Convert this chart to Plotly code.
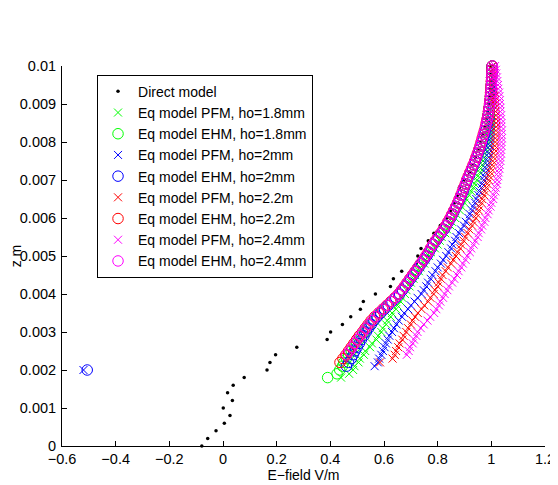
import plotly.graph_objects as go

# ---------------- data ----------------
# shared depth grid (m) for equivalent-model series, 0.0018 .. 0.0100
Z_GRID = [0.0018, 0.0019,
          0.0020, 0.0021, 0.0022, 0.0023, 0.0024, 0.0025, 0.0026, 0.0027, 0.0028, 0.0029,
          0.0030, 0.0031, 0.0032, 0.0033, 0.0034, 0.0035, 0.0036, 0.0037, 0.0038, 0.0039,
          0.0040, 0.0041, 0.0042, 0.0043, 0.0044, 0.0045, 0.0046, 0.0047, 0.0048, 0.0049,
          0.0050, 0.0051, 0.0052, 0.0053, 0.0054, 0.0055, 0.0056, 0.0057, 0.0058, 0.0059,
          0.0060, 0.0061, 0.0062, 0.0063, 0.0064, 0.0065, 0.0066, 0.0067, 0.0068, 0.0069,
          0.0070, 0.0071, 0.0072, 0.0073, 0.0074, 0.0075, 0.0076, 0.0077, 0.0078, 0.0079,
          0.0080, 0.0081, 0.0082, 0.0083, 0.0084, 0.0085, 0.0086, 0.0087, 0.0088, 0.0089,
          0.0090, 0.0091, 0.0092, 0.0093, 0.0094, 0.0095, 0.0096, 0.0097, 0.0098, 0.0099,
          0.0100]

# Direct model
DIRECT_Z = [0.0000, 0.0002, 0.0004, 0.0006, 0.0008, 0.0010, 0.0012, 0.0014, 0.0016, 0.0018,
            0.0020, 0.0022, 0.0024, 0.0026, 0.0028, 0.0030, 0.0032, 0.0034, 0.0036, 0.0038,
            0.0040, 0.0042, 0.0044, 0.0046, 0.0048, 0.0050, 0.0052, 0.0054, 0.0056, 0.0058,
            0.0060, 0.0062, 0.0064, 0.0066, 0.0068, 0.0070, 0.0072, 0.0074, 0.0076, 0.0078,
            0.0080, 0.0082, 0.0084, 0.0086, 0.0088, 0.0090, 0.0092, 0.0094, 0.0096, 0.0098,
            0.0100]
DIRECT_E = [-0.079, -0.057, -0.026, 0.005, 0.026, 0.001, 0.035, 0.017, 0.038, 0.079,
            0.164, 0.175, 0.196, 0.275, 0.388, 0.401, 0.445, 0.476, 0.512, 0.523,
            0.568, 0.624, 0.635, 0.666, 0.720, 0.726, 0.738, 0.765, 0.786, 0.810,
            0.834, 0.848, 0.862, 0.874, 0.881, 0.900, 0.918, 0.928, 0.940, 0.950,
            0.958, 0.966, 0.974, 0.981, 0.986, 0.990, 0.994, 0.997, 0.999, 1.000,
            1.001]

# ho = 1.8 mm (starts at z = 0.0018)
PFM_18 = [0.440, 0.470,
          0.485, 0.490, 0.505, 0.510, 0.525, 0.530, 0.548, 0.555, 0.572, 0.578,
          0.590, 0.595, 0.608, 0.612, 0.625, 0.630, 0.645, 0.650, 0.662, 0.668,
          0.678, 0.684, 0.695, 0.700, 0.710, 0.716, 0.730, 0.736, 0.750, 0.755,
          0.768, 0.775, 0.790, 0.800, 0.808, 0.815, 0.828, 0.835, 0.848, 0.853,
          0.865, 0.870, 0.883, 0.890, 0.900, 0.906, 0.918, 0.925, 0.933, 0.938,
          0.946, 0.950, 0.957, 0.960, 0.966, 0.969, 0.974, 0.976, 0.980, 0.982,
          0.986, 0.988, 0.991, 0.992, 0.995, 0.996, 0.998, 0.998, 1.000, 1.000,
          1.001, 1.000, 1.002, 1.001, 1.002, 1.002, 1.003, 1.002, 1.003, 1.003,
          1.003]
EHM_18 = [0.390, 0.425,
          0.435, 0.445, 0.450, 0.460, 0.468, 0.478, 0.490, 0.498, 0.508, 0.518,
          0.528, 0.538, 0.548, 0.560, 0.572, 0.586, 0.600, 0.614, 0.628, 0.642,
          0.656, 0.667, 0.678, 0.688, 0.698, 0.708, 0.718, 0.728, 0.738, 0.748,
          0.758, 0.767, 0.775, 0.783, 0.793, 0.803, 0.813, 0.823, 0.832, 0.840,
          0.848, 0.855, 0.862, 0.869, 0.876, 0.882, 0.888, 0.894, 0.899, 0.905,
          0.910, 0.916, 0.922, 0.928, 0.934, 0.940, 0.945, 0.950, 0.955, 0.960,
          0.964, 0.968, 0.972, 0.976, 0.980, 0.983, 0.986, 0.988, 0.990, 0.992,
          0.994, 0.996, 0.997, 0.998, 0.999, 1.000, 1.001, 1.001, 1.002, 1.002,
          1.003]

# ho = 2 mm (starts at z = 0.0020)
PFM_20 = [-0.520, 0.565, 0.577, 0.582, 0.590, 0.596, 0.602, 0.607, 0.614, 0.620,
          0.630, 0.637, 0.647, 0.655, 0.667, 0.675, 0.690, 0.700, 0.714, 0.725,
          0.740, 0.748, 0.758, 0.764, 0.774, 0.780, 0.792, 0.800, 0.812, 0.820,
          0.832, 0.840, 0.850, 0.855, 0.865, 0.870, 0.880, 0.887, 0.898, 0.905,
          0.915, 0.920, 0.928, 0.932, 0.940, 0.944, 0.952, 0.956, 0.963, 0.966,
          0.972, 0.974, 0.979, 0.980, 0.985, 0.986, 0.990, 0.990, 0.994, 0.994,
          0.997, 0.997, 0.999, 0.999, 1.001, 1.000, 1.002, 1.001, 1.003, 1.002,
          1.004, 1.003, 1.004, 1.003, 1.004, 1.004, 1.004, 1.003, 1.004, 1.004,
          1.004]
EHM_20 = [-0.506, 0.460, 0.468, 0.478, 0.485, 0.492, 0.500, 0.508, 0.516, 0.525,
          0.534, 0.543, 0.553, 0.563, 0.575, 0.588, 0.602, 0.616, 0.630, 0.644,
          0.658, 0.669, 0.680, 0.690, 0.700, 0.710, 0.720, 0.730, 0.740, 0.750,
          0.760, 0.768, 0.776, 0.784, 0.794, 0.804, 0.814, 0.824, 0.833, 0.841,
          0.849, 0.856, 0.863, 0.870, 0.877, 0.883, 0.889, 0.895, 0.900, 0.906,
          0.911, 0.917, 0.923, 0.929, 0.935, 0.941, 0.946, 0.951, 0.956, 0.961,
          0.965, 0.969, 0.973, 0.977, 0.980, 0.983, 0.986, 0.988, 0.990, 0.992,
          0.994, 0.995, 0.997, 0.998, 0.999, 1.000, 1.001, 1.001, 1.002, 1.002,
          1.003]

# ho = 2.2 mm (starts at z = 0.0022)
PFM_22 = [0.585, 0.632, 0.640, 0.645, 0.653, 0.658, 0.668, 0.673,
          0.683, 0.690, 0.700, 0.706, 0.716, 0.726, 0.740, 0.750, 0.765, 0.773,
          0.785, 0.790, 0.800, 0.804, 0.812, 0.818, 0.830, 0.838, 0.850, 0.858,
          0.868, 0.874, 0.884, 0.888, 0.897, 0.903, 0.912, 0.918, 0.928, 0.933,
          0.942, 0.946, 0.953, 0.956, 0.963, 0.966, 0.973, 0.976, 0.982, 0.985,
          0.990, 0.993, 0.997, 0.999, 1.003, 1.005, 1.008, 1.009, 1.012, 1.013,
          1.015, 1.015, 1.017, 1.017, 1.018, 1.018, 1.018, 1.017, 1.016, 1.015,
          1.014, 1.013, 1.012, 1.011, 1.010, 1.009, 1.008, 1.007, 1.006, 1.005,
          1.004]
EHM_22 = [0.436, 0.447, 0.458, 0.468, 0.478, 0.488, 0.498, 0.508,
          0.520, 0.530, 0.541, 0.552, 0.565, 0.580, 0.595, 0.610, 0.625, 0.640,
          0.654, 0.665, 0.676, 0.686, 0.696, 0.706, 0.716, 0.726, 0.736, 0.746,
          0.756, 0.765, 0.773, 0.781, 0.791, 0.801, 0.811, 0.821, 0.830, 0.838,
          0.846, 0.853, 0.860, 0.867, 0.874, 0.880, 0.886, 0.892, 0.897, 0.903,
          0.908, 0.914, 0.920, 0.926, 0.932, 0.938, 0.943, 0.948, 0.953, 0.958,
          0.962, 0.966, 0.970, 0.974, 0.978, 0.981, 0.984, 0.987, 0.989, 0.991,
          0.993, 0.995, 0.996, 0.997, 0.998, 0.999, 1.000, 1.001, 1.002, 1.002,
          1.003]

# ho = 2.4 mm (starts at z = 0.0024)
PFM_24 = [0.685, 0.692, 0.697, 0.707, 0.712, 0.720,
          0.725, 0.737, 0.748, 0.762, 0.772, 0.787, 0.795, 0.805, 0.810, 0.820,
          0.826, 0.836, 0.842, 0.854, 0.862, 0.872, 0.878, 0.888, 0.894, 0.904,
          0.910, 0.920, 0.925, 0.934, 0.940, 0.949, 0.953, 0.962, 0.966, 0.974,
          0.978, 0.986, 0.990, 0.997, 1.000, 1.007, 1.009, 1.015, 1.016, 1.021,
          1.022, 1.026, 1.027, 1.030, 1.031, 1.034, 1.034, 1.036, 1.036, 1.038,
          1.038, 1.039, 1.038, 1.039, 1.037, 1.038, 1.036, 1.036, 1.034, 1.034,
          1.032, 1.032, 1.030, 1.029, 1.026, 1.025, 1.022, 1.021, 1.018, 1.017,
          1.014]
EHM_24 = [0.461, 0.472, 0.482, 0.492, 0.502, 0.512,
          0.522, 0.533, 0.544, 0.556, 0.568, 0.582, 0.597, 0.612, 0.627, 0.641,
          0.655, 0.666, 0.677, 0.687, 0.697, 0.707, 0.717, 0.727, 0.737, 0.747,
          0.757, 0.766, 0.774, 0.782, 0.792, 0.802, 0.812, 0.822, 0.831, 0.839,
          0.847, 0.854, 0.861, 0.868, 0.875, 0.881, 0.887, 0.893, 0.898, 0.904,
          0.909, 0.915, 0.921, 0.927, 0.933, 0.939, 0.944, 0.949, 0.954, 0.959,
          0.963, 0.967, 0.971, 0.975, 0.979, 0.982, 0.985, 0.988, 0.990, 0.992,
          0.994, 0.995, 0.997, 0.998, 0.999, 1.000, 1.001, 1.002, 1.002, 1.003,
          1.004]

SERIES = [
    ("Eq model PFM, ho=1.8mm", PFM_18, "x", "#00ff00"),
    ("Eq model EHM, ho=1.8mm", EHM_18, "o", "#00ff00"),
    ("Eq model PFM, ho=2mm", PFM_20, "x", "#0000ff"),
    ("Eq model EHM, ho=2mm", EHM_20, "o", "#0000ff"),
    ("Eq model PFM, ho=2.2m", PFM_22, "x", "#ff0000"),
    ("Eq model EHM, ho=2.2m", EHM_22, "o", "#ff0000"),
    ("Eq model PFM, ho=2.4mm", PFM_24, "x", "#ff00ff"),
    ("Eq model EHM, ho=2.4mm", EHM_24, "o", "#ff00ff"),
]

X_TICKS = [-0.6, -0.4, -0.2, 0, 0.2, 0.4, 0.6, 0.8, 1, 1.2]
X_TICK_TEXT = ["\u22120.6", "\u22120.4", "\u22120.2", "0", "0.2", "0.4", "0.6", "0.8", "1", "1.2"]
Y_TICKS = [0, 0.001, 0.002, 0.003, 0.004, 0.005, 0.006, 0.007, 0.008, 0.009, 0.01]
Y_TICK_TEXT = ["0", "0.001", "0.002", "0.003", "0.004", "0.005", "0.006", "0.007", "0.008", "0.009", "0.01"]

# ---------------- figure ----------------
# The page body adds an 8 px margin, so the figure is 550x477 and the margins
# are chosen so that the plot area lands where the reference has it.
FONT = "Liberation Sans, Arial, Helvetica, sans-serif"
fig = go.Figure()

fig.add_trace(go.Scatter(
    x=DIRECT_E, y=DIRECT_Z, mode="markers", name="Direct model", cliponaxis=False,
    marker=dict(symbol="circle", size=3.5, color="black", line=dict(width=0)),
))

for name, xs, kind, col in SERIES:
    zs = Z_GRID[len(Z_GRID) - len(xs):]
    if kind == "x":
        marker = dict(symbol="x-thin-open", size=8, color=col, line=dict(width=1, color=col))
    else:
        marker = dict(symbol="circle-open", size=10.5, color=col, line=dict(width=1, color=col))
    fig.add_trace(go.Scatter(x=xs, y=zs, mode="markers", name=name, marker=marker,
                             cliponaxis=False))

fig.update_layout(
    width=550, height=477,
    margin=dict(l=54, r=13, t=58, b=39, autoexpand=False),
    paper_bgcolor="white", plot_bgcolor="white",
    font=dict(family=FONT, size=14, color="black"),
    showlegend=True,
    legend=dict(
        x=0.0725, y=0.977, xanchor="left", yanchor="top",
        bgcolor="white", bordercolor="black", borderwidth=1,
        font=dict(family=FONT, size=14, color="black"),
        itemsizing="trace", tracegroupgap=0,
    ),
)
fig.update_xaxes(
    range=[-0.6, 1.2], tickvals=X_TICKS, ticktext=X_TICK_TEXT, automargin=False,
    showline=True, linecolor="black", linewidth=1, mirror=False,
    ticks="inside", ticklen=5, tickcolor="black", showgrid=False, zeroline=False,
    tickfont=dict(size=14.5),
    title=dict(text="E\u2212field V/m", font=dict(size=14), standoff=3),
)
fig.update_yaxes(
    range=[0, 0.01], tickvals=Y_TICKS, ticktext=Y_TICK_TEXT, automargin=False,
    showline=True, linecolor="black", linewidth=1, mirror=False,
    ticks="inside", ticklen=5, tickcolor="black", showgrid=False, zeroline=False,
    tickfont=dict(size=14.5), ticklabelstandoff=2,
    title=dict(text="z m", font=dict(size=14), standoff=6),
)

fig.write_html("out.html")
